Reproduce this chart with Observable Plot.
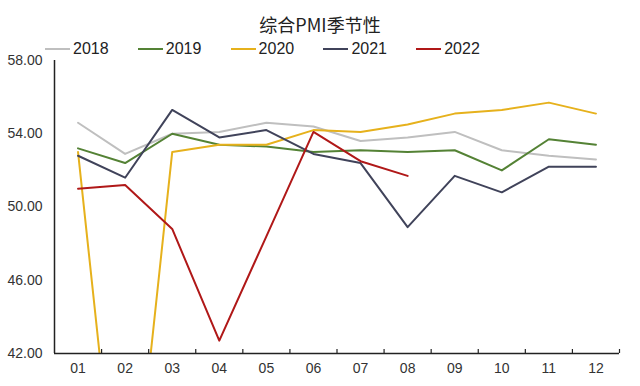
<!DOCTYPE html>
<html><head><meta charset="utf-8">
<script src="https://cdn.jsdelivr.net/npm/d3@7"></script>
<script src="https://cdn.jsdelivr.net/npm/@observablehq/plot@0.6"></script>
<style>
body{margin:0;background:#fff;font-family:"Liberation Sans",Arial,sans-serif;}
#wrap{width:640px;height:386px;position:relative;overflow:hidden;}
#title{height:37px;line-height:46px;position:relative;top:1px;text-align:center;font-family:"Noto Sans CJK SC",sans-serif;font-size:18px;color:#222;}
#legend{height:18px;display:flex;padding-left:45px;align-items:center;position:relative;top:3px;}
.item{width:92.8px;display:flex;align-items:center;font-size:16px;color:#222;font-family:"Liberation Sans Narrow","Liberation Sans",sans-serif;}
.sw{width:25px;height:2.5px;margin-right:3px;}
</style></head><body>
<div id="wrap"><div id="title">综合PMI季节性</div><div id="legend"></div><div id="chart"></div></div>
<script>
const months = ["01","02","03","04","05","06","07","08","09","10","11","12"];
const years = ["2018","2019","2020","2021","2022"];
const colors = ["#bfbfbf","#548235","#e6b11c","#40435a","#b01818"];
const v2018 = [54.6,52.9,54.0,54.1,54.6,54.4,53.6,53.8,54.1,53.1,52.8,52.6];
const v2019 = [53.2,52.4,54.0,53.4,53.3,53.0,53.1,53.0,53.1,52.0,53.7,53.4];
const v2020 = [53.0,28.9,53.0,53.4,53.4,54.2,54.1,54.5,55.1,55.3,55.7,55.1];
const v2021 = [52.8,51.6,55.3,53.8,54.2,52.9,52.4,48.9,51.7,50.8,52.2,52.2];
const v2022 = [51.0,51.2,48.8,42.7,48.4,54.1,52.5,51.7];
const yTicks = [42,46,50,54,58];

const series = [v2018,v2019,v2020,v2021,v2022];
const data = [];
series.forEach((vals,i)=>vals.forEach((v,j)=>data.push({year:years[i],m:j+1,value:v})));
const idx = months.map((_,j)=>j+1);
const bounds = idx.map(d=>d+0.5);

const leg = document.getElementById("legend");
years.forEach((y,i)=>{
  const it=document.createElement("div");it.className="item";
  it.innerHTML=`<span class="sw" style="background:${colors[i]}"></span><span>${y}</span>`;
  leg.appendChild(it);
});

const chart = Plot.plot({
  width:640, height:331,
  marginLeft:54, marginRight:21, marginTop:5, marginBottom:33,
  style:{fontFamily:"Liberation Sans, Arial, sans-serif",fontSize:"13px",color:"#333",overflow:"visible"},
  x:{type:"linear",domain:[0.5,12.5]},
  y:{type:"linear",domain:[42,58]},
  color:{domain:years,range:colors},
  marks:[
    Plot.axisY({ticks:yTicks,tickFormat:d3.format(".2f"),tickSize:0,tickPadding:12,label:null,fontSize:14}),
    Plot.axisX({ticks:idx,tickFormat:d=>months[d-1],tickSize:0,tickPadding:10,label:null,fontSize:14}),
    Plot.line(data,{x:"m",y:"value",z:"year",stroke:"year",strokeWidth:2,clip:true}),
    Plot.ruleX([0.5],{stroke:"#222",strokeWidth:1.5}),
    Plot.ruleY([42],{stroke:"#222",strokeWidth:1.5}),
    Plot.ruleX(bounds,{x:d=>d,y1:42,y2:42,insetTop:-4,stroke:"#222",strokeWidth:1.2})
  ]
});
document.getElementById("chart").appendChild(chart);
</script>
</body></html>
